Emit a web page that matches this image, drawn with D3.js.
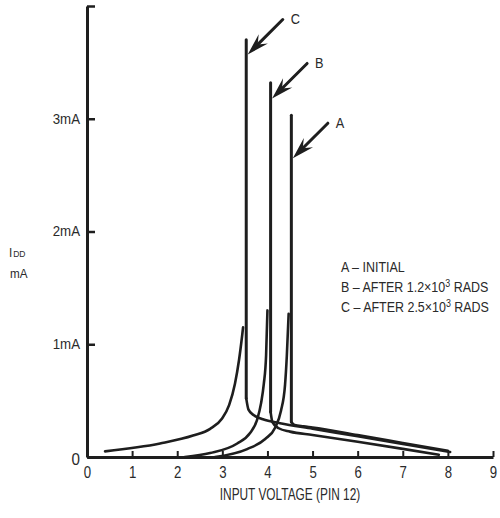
<!DOCTYPE html>
<html>
<head>
<meta charset="utf-8">
<script src="https://cdn.jsdelivr.net/npm/d3@7"></script>
<style>
  html, body { margin: 0; padding: 0; background: #fff; }
  svg { display: block; }
  svg text { font-family: "Liberation Sans", Arial, sans-serif; fill: #2a2a2a; }
</style>
</head>
<body>
<script>
// Supply current I_DD (mA) versus input voltage (V) on pin 12.
const voltageTicks = [0, 1, 2, 3, 4, 5, 6, 7, 8, 9];
const currentTicks = [0, 1, 2, 3, 4];
const currentTickLabels = ["0", "1mA", "2mA", "3mA", ""];

// A – initial
const riseA  = [[2.84, 0.0], [3.55, 0.07], [3.95, 0.16], [4.17, 0.26], [4.30, 0.41], [4.39, 0.64], [4.43, 0.90], [4.47, 1.27]];
const spikeA = [[4.53, 0.31], [4.53, 3.03]];
const tailA  = [[4.53, 0.31], [4.60, 0.285], [4.80, 0.272], [5.0, 0.262], [6.0, 0.195], [7.0, 0.125], [8.0, 0.055]];

// B – after 1.2×10³ rads
const riseB  = [[2.17, 0.0], [2.73, 0.035], [3.33, 0.12], [3.61, 0.21], [3.77, 0.33], [3.86, 0.48], [3.92, 0.65], [3.97, 0.90], [4.00, 1.30]];
const spikeB = [[4.07, 0.40], [4.07, 3.32]];
const tailB  = [[4.07, 0.40], [4.11, 0.31], [4.25, 0.255], [4.50, 0.225], [5.0, 0.195], [6.0, 0.135], [7.0, 0.072], [7.8, 0.02]];

// C – after 2.5×10³ rads
const riseC  = [[0.40, 0.05], [1.62, 0.12], [2.35, 0.19], [2.73, 0.25], [2.99, 0.34], [3.15, 0.46], [3.28, 0.65], [3.37, 0.86], [3.44, 1.08], [3.46, 1.15]];
const spikeC = [[3.53, 0.52], [3.53, 3.70]];
const tailC  = [[3.53, 0.52], [3.58, 0.42], [3.70, 0.37], [3.90, 0.335], [4.28, 0.30], [5.0, 0.251], [6.0, 0.184], [7.0, 0.116], [8.05, 0.045]];

// Arrow callouts: label and the point on each spike the arrow touches
const calloutLabels = ["C", "B", "A"];
const calloutTips = [[3.53, 3.57], [4.07, 3.18], [4.53, 2.65]];

const legendLines = [
  ["A – INITIAL", null, ""],
  ["B – AFTER 1.2×10", "3", " RADS"],
  ["C – AFTER 2.5×10", "3", " RADS"]
];

const W = 500, H = 518;
const svg = d3.select("body").append("svg").attr("width", W).attr("height", H);

const x = d3.scaleLinear().domain([0, 9]).range([87, 493]);
const y = d3.scaleLinear().domain([0, 4]).range([457, 6]);

const ink = "#1e1e1e";

// Narrow the lettering horizontally about each text's anchor point
function squeeze(sel, sx) {
  sel.each(function () {
    const el = d3.select(this);
    const x0 = +el.attr("x") || 0;
    el.attr("transform", `translate(${x0},0) scale(${sx},1) translate(${-x0},0)`);
  });
}

// Axes
const xAxis = d3.axisBottom(x).tickValues(voltageTicks).tickFormat(d3.format("d"))
  .tickSizeInner(-6).tickSizeOuter(0).tickPadding(9);
const gx = svg.append("g").attr("transform", `translate(0,${y(0)})`).call(xAxis);
gx.attr("font-family", null).attr("font-size", null);
gx.select(".domain").attr("stroke", ink).attr("stroke-width", 3);
gx.selectAll(".tick line").attr("stroke", ink).attr("stroke-width", 2);
gx.selectAll(".tick text").attr("font-size", 16.5).attr("fill", "#2a2a2a").call(squeeze, 0.8);

const yAxis = d3.axisLeft(y).tickValues(currentTicks).tickFormat((d, i) => currentTickLabels[i])
  .tickSizeInner(-8).tickSizeOuter(0).tickPadding(7);
const gy = svg.append("g").attr("transform", `translate(${x(0)},0)`).call(yAxis);
gy.attr("font-family", null).attr("font-size", null);
gy.select(".domain").attr("stroke", ink).attr("stroke-width", 3);
gy.selectAll(".tick line").attr("stroke", ink).attr("stroke-width", 2.5);
gy.selectAll(".tick text").attr("font-size", 14).attr("fill", "#2a2a2a").call(squeeze, 0.95);
gy.selectAll(".tick text").filter(d => d === 0).attr("font-size", 16).attr("dy", "0.45em");

// Curves
const smooth = d3.line().x(d => x(d[0])).y(d => y(d[1])).curve(d3.curveMonotoneX);
const straight = d3.line().x(d => x(d[0])).y(d => y(d[1]));
const plot = svg.append("g").attr("fill", "none").attr("stroke", ink)
  .attr("stroke-linecap", "round").attr("stroke-linejoin", "round");

[[riseA, spikeA, tailA], [riseB, spikeB, tailB], [riseC, spikeC, tailC]].forEach(([rise, spike, tail]) => {
  plot.append("path").attr("d", smooth(rise)).attr("stroke-width", 2.6);
  plot.append("path").attr("d", smooth(tail)).attr("stroke-width", 2.6);
  plot.append("path").attr("d", straight(spike)).attr("stroke-width", 3);
});

// Arrow callouts
const reach = 35;        // arrow length along each axis, px
const headLen = 22, headHalf = 6.5, notch = 8;
const arrows = svg.append("g");
calloutTips.forEach((t, i) => {
  const tx = x(t[0]) + 1.5, ty = y(t[1]);
  const ex = tx + reach, ey = ty - reach;
  const ang = Math.atan2(ey - ty, ex - tx);
  const ux = Math.cos(ang), uy = Math.sin(ang), px = -uy, py = ux;
  arrows.append("line").attr("x1", tx + ux * 8).attr("y1", ty + uy * 8).attr("x2", ex).attr("y2", ey)
    .attr("stroke", ink).attr("stroke-width", 3).attr("stroke-linecap", "round");
  const head = [
    [tx, ty],
    [tx + ux * headLen + px * headHalf, ty + uy * headLen + py * headHalf],
    [tx + ux * (headLen - notch), ty + uy * (headLen - notch)],
    [tx + ux * headLen - px * headHalf, ty + uy * headLen - py * headHalf]
  ];
  arrows.append("path").attr("d", "M" + head.map(p => p.join(",")).join("L") + "Z").attr("fill", ink);
  arrows.append("text").attr("x", ex + 8).attr("y", ey + 5).attr("font-size", 15).text(calloutLabels[i])
    .call(squeeze, 0.85);
});

// Legend
const legend = svg.append("g").attr("transform", "translate(341,272)");
legendLines.forEach((ln, i) => {
  const t = legend.append("text").attr("x", 0).attr("y", i * 20).attr("font-size", 14);
  t.append("tspan").text(ln[0]);
  if (ln[1]) {
    t.append("tspan").attr("font-size", 10).attr("dy", -5).text(ln[1]);
    t.append("tspan").attr("dy", 5).text(ln[2]);
  }
  t.call(squeeze, 0.89);
});

// Axis titles
const yt = svg.append("text").attr("x", 9).attr("y", 257).attr("font-size", 13);
yt.append("tspan").text("I");
yt.append("tspan").attr("font-size", 9.5).attr("dx", 1).text("DD");
yt.call(squeeze, 0.9);
svg.append("text").attr("x", 10).attr("y", 278).attr("font-size", 13).text("mA").call(squeeze, 0.9);

svg.append("text").attr("x", 290).attr("y", 500).attr("text-anchor", "middle")
  .attr("font-size", 16.5).text("INPUT VOLTAGE (PIN 12)").call(squeeze, 0.72);
</script>
</body>
</html>
